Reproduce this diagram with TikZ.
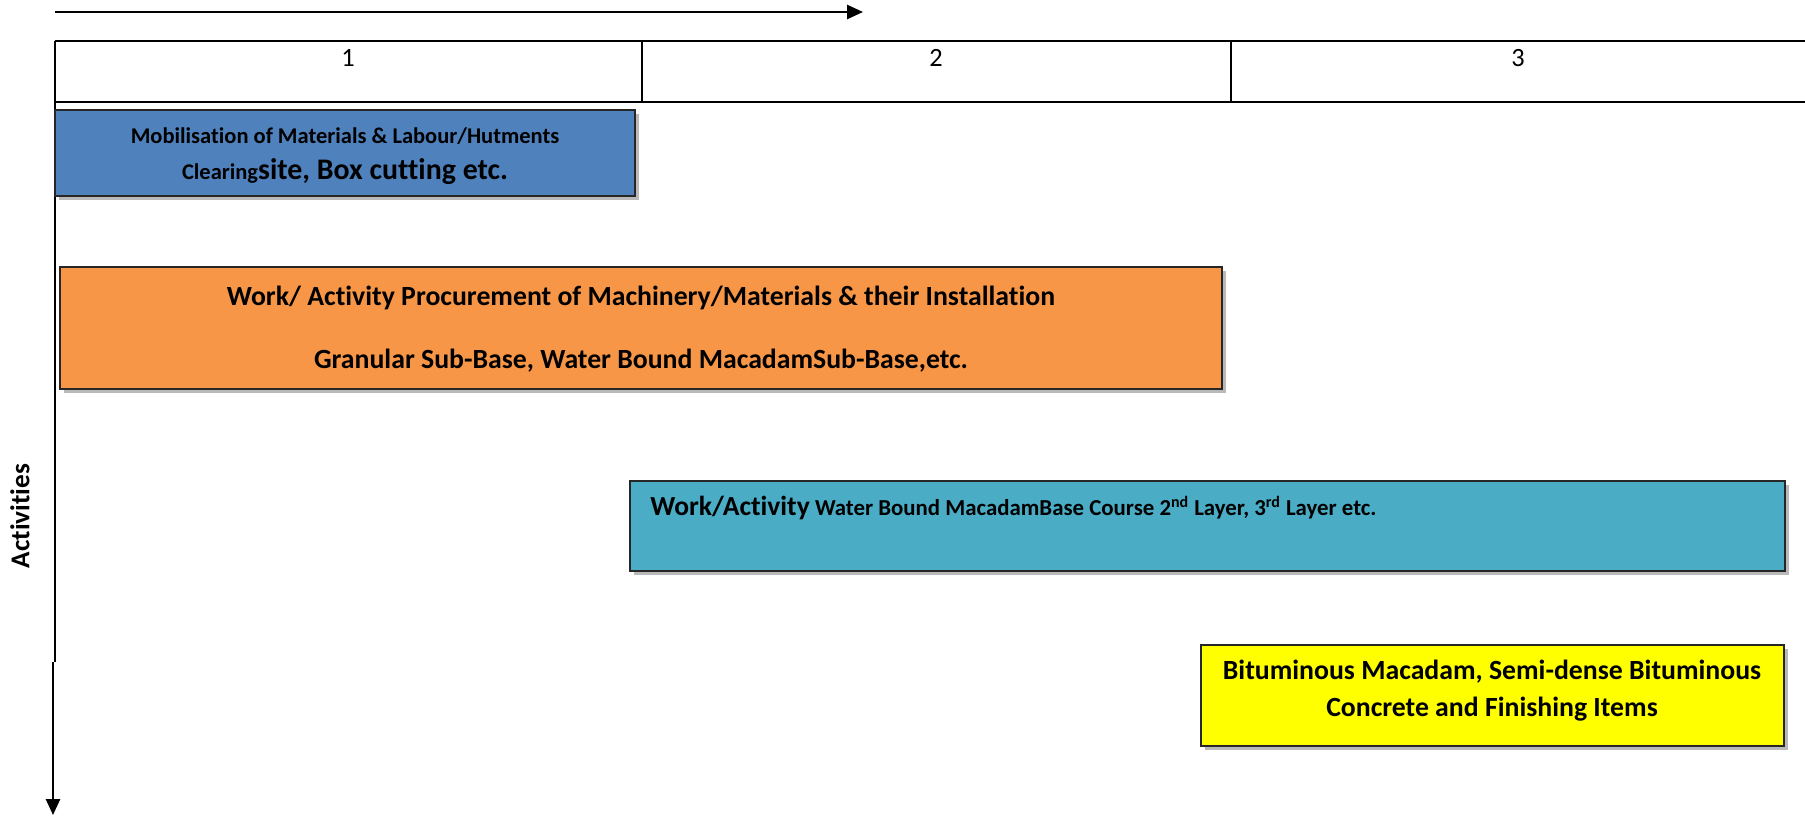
\documentclass[tikz,border=0pt]{standalone}
\usepackage{fontspec}
\setmainfont{Carlito}[Ligatures=NoCommon]
\usetikzlibrary{arrows.meta,shadows}

\definecolor{mobblue}{HTML}{4F81BD}
\definecolor{procorange}{HTML}{F79646}
\definecolor{wbmteal}{HTML}{4BACC6}
\definecolor{bityellow}{HTML}{FFFF00}

\tikzset{
	hdrline/.style={line width=1.6pt},
	axisline/.style={line width=1.1pt},
	actbox/.style={draw=black!85, line width=0.8pt,
		drop shadow={shadow xshift=2.2pt, shadow yshift=-2.2pt, fill=gray!55, opacity=1}},
	acttext/.style={font=\bfseries, align=center, inner sep=0pt},
}

\begin{document}
\begin{tikzpicture}[x=0.02cm, y=-0.02cm]
		\useasboundingbox (0,0) rectangle (1805,817);
		\fill[white] (0,0) rectangle (1805,817);

		\coordinate (ta1) at (55, 12);
		\coordinate (ta2) at (863, 12);

		\coordinate (h1) at (55, 41);
		\coordinate (h2) at (1805, 41);
		\coordinate (h3) at (55, 102);
		\coordinate (h4) at (1805, 102);
		\coordinate (d1) at (642, 41);
		\coordinate (d2) at (642, 102);
		\coordinate (d3) at (1231, 41);
		\coordinate (d4) at (1231, 102);

		\coordinate (ax1) at (55, 102);
		\coordinate (ax2) at (55, 662);
		\coordinate (ax3) at (53, 662);
		\coordinate (ax4) at (53, 815);

		% time arrow
		\draw[axisline, -{Triangle[length=9pt, width=8pt]}] (ta1) -- (ta2);

		% header
		\draw[hdrline] (h1) -- (h2);
		\draw[hdrline] (h3) -- (h4);
		\draw[hdrline] (h1) -- (h3);
		\draw[axisline] (d1) -- (d2);
		\draw[axisline] (d3) -- (d4);
		\node[font=\fontsize{15}{18}\selectfont] (c1) at (348, 58) {1};
		\node[font=\fontsize{15}{18}\selectfont] (c2) at (936, 58) {2};
		\node[font=\fontsize{15}{18}\selectfont] (c3) at (1518, 58) {3};

		% activity axis
		\draw[axisline] (ax1) -- (ax2);
		\draw[axisline, -{Triangle[length=9pt, width=8pt]}] (ax3) -- (ax4);
		\node[font=\bfseries\fontsize{15.5}{18}\selectfont, rotate=90] (act) at (20, 516) {Activities};

		% bars
		\filldraw[actbox, fill=mobblue] (55, 110) rectangle (635, 196);
		\filldraw[actbox, fill=procorange] (60, 267) rectangle (1222, 389);
		\filldraw[actbox, fill=wbmteal] (630, 481) rectangle (1785, 571);
		\filldraw[actbox, fill=bityellow] (1201, 645) rectangle (1784, 746);

		\node[acttext, font=\bfseries\fontsize{12.8}{15}\selectfont] (mob1) at (345, 136) {Mobilisation of Materials \& Labour/Hutments};
		\node[acttext, font=\bfseries\fontsize{12.8}{15}\selectfont] (mob2) at (345, 172) {Clearing{\fontsize{17}{19}\selectfont site, Box cutting etc.}};

		\node[acttext, font=\bfseries\fontsize{15.8}{18}\selectfont] (proc1) at (641, 298) {Work/ Activity Procurement of Machinery/Materials \& their Installation};
		\node[acttext, font=\bfseries\fontsize{15.8}{18}\selectfont] (proc2) at (641, 361) {Granular Sub-Base, Water Bound MacadamSub-Base,etc.};

		\node[acttext, anchor=west, font=\bfseries\fontsize{13}{15}\selectfont] (wbm) at (650, 508) {{\fontsize{15.7}{18}\selectfont Work/Activity} Water Bound MacadamBase Course 2\textsuperscript{nd} Layer, 3\textsuperscript{rd} Layer etc.};

		\node[acttext, font=\bfseries\fontsize{15.8}{18}\selectfont] (bit1) at (1492, 672) {Bituminous Macadam, Semi-dense Bituminous};
		\node[acttext, font=\bfseries\fontsize{15.8}{18}\selectfont] (bit2) at (1492, 709) {Concrete and Finishing Items};
	\end{tikzpicture}
\end{document}
